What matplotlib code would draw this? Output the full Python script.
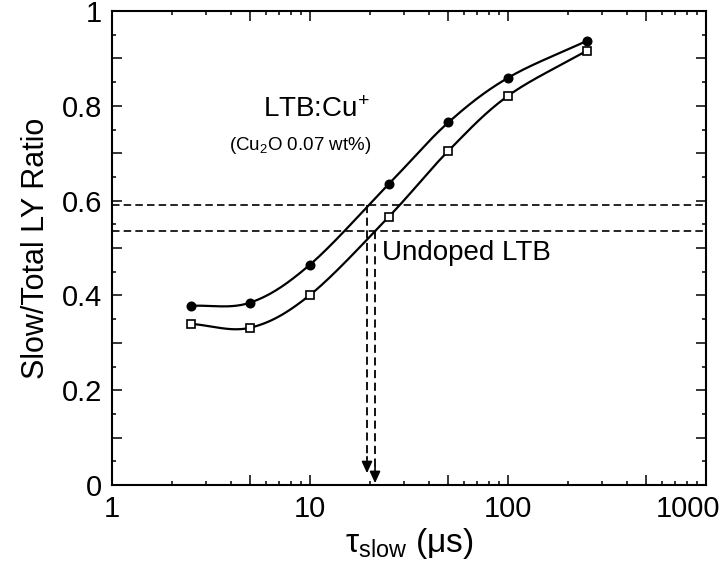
import numpy as np
import matplotlib
matplotlib.use("Agg")
import matplotlib.pyplot as plt
import matplotlib.transforms as mtransforms

plt.rcParams['font.family'] = ['Liberation Sans', 'DejaVu Sans']
plt.rcParams['mathtext.fontset'] = 'custom'
plt.rcParams['mathtext.rm'] = 'Liberation Sans'
plt.rcParams['mathtext.default'] = 'regular'

# data
tau = [2.5, 5, 10, 25, 50, 100, 250]
ratio_cu = [0.378, 0.385, 0.465, 0.635, 0.765, 0.859, 0.937]
ratio_undoped = [0.340, 0.332, 0.401, 0.566, 0.705, 0.821, 0.916]

level_cu = 0.591
level_undoped = 0.536
tau_cu = 19.4
tau_undoped = 21.3

xticks = [1, 5, 10, 50, 100, 500, 1000]
xticklabels = ['1', '', '10', '', '100', '', '1000']
yticks = [0, 0.1, 0.2, 0.3, 0.4, 0.5, 0.6, 0.7, 0.8, 0.9, 1.0]
yticklabels = ['0', '', '0.2', '', '0.4', '', '0.6', '', '0.8', '', '1']


def smooth(xs, ys, n=40):
    # catmull-rom through the points, in log-x space
    lx = np.log10(xs)
    y = np.asarray(ys, float)
    P = np.column_stack([lx, y])
    P = np.vstack([2 * P[0] - P[1], P, 2 * P[-1] - P[-2]])
    out = []
    for i in range(1, len(P) - 2):
        p0, p1, p2, p3 = P[i - 1], P[i], P[i + 1], P[i + 2]
        t = np.linspace(0, 1, n)[:, None]
        seg = 0.5 * ((2 * p1) + (-p0 + p2) * t + (2 * p0 - 5 * p1 + 4 * p2 - p3) * t ** 2
                     + (-p0 + 3 * p1 - 3 * p2 + p3) * t ** 3)
        out.append(seg)
    out = np.vstack(out)
    return 10 ** out[:, 0], out[:, 1]


fig = plt.figure(figsize=(7.25, 5.64), dpi=100)
ax = fig.add_axes([0.1545, 0.14, 0.8193, 0.8405])

for ys, mk, fc in [(ratio_cu, 'o', 'k'), (ratio_undoped, 's', 'white')]:
    sx, sy = smooth(tau, ys)
    ax.plot(sx, sy, color='k', lw=1.6, zorder=2)
    ax.plot(tau, ys, ls='none', marker=mk, ms=5.8 if mk == 's' else 6,
            mfc=fc, mec='k', mew=1.2, zorder=3)

dash = (4.5, 2.5)
ax.axhline(level_cu, color='k', lw=1.2, dashes=dash, zorder=1)
ax.axhline(level_undoped, color='k', lw=1.2, dashes=dash, zorder=1)

for xv, top, tip in [(tau_cu, level_cu, 0.025), (tau_undoped, level_undoped, 0.004)]:
    ax.plot([xv, xv], [top, tip + 0.03], color='k', lw=1.3, dashes=dash, zorder=1)
    ax.annotate('', xy=(xv, tip), xytext=(xv, tip + 0.035),
                arrowprops=dict(arrowstyle='-|>,head_length=0.7,head_width=0.32',
                                color='k', lw=1.2, shrinkA=0, shrinkB=0))

ax.text(5.8, 0.776, 'LTB:Cu$^{+}$', fontsize=20, ha='left', va='baseline')
ax.text(3.9, 0.707, '(Cu$_{2}$O 0.07 wt%)', fontsize=13.5, ha='left', va='baseline')
ax.text(23.1, 0.475, 'Undoped LTB', fontsize=20, ha='left', va='baseline')

ax.set_xscale('log')
ax.set_xlim(1, 1000)
ax.set_ylim(0, 1)
ax.set_xticks(xticks, labels=xticklabels)
minor = [m * 10 ** k for k in range(3) for m in (2, 3, 4, 6, 7, 8, 9)]
ax.set_xticks(minor, minor=True)
ax.set_xticklabels([], minor=True)
ax.set_yticks(yticks, labels=yticklabels)
ax.set_yticks(np.arange(0.05, 1.0, 0.1), minor=True)

ax.tick_params(which='both', direction='in', top=True, right=True, labelsize=21)
ax.tick_params(which='major', length=7.2, width=1.1, pad=7)
ax.tick_params(which='minor', length=3.2, width=1.1)
for s in ax.spines.values():
    s.set_linewidth(1.5)

# last x label sits a bit left in the reference so it stays inside the figure
last = ax.get_xticklabels()[-1]
last.set_transform(last.get_transform()
                   + mtransforms.ScaledTranslation(-0.18, 0, fig.dpi_scale_trans))

ax.set_xlabel('τ$_{slow}$ (μs)', fontsize=24, labelpad=2)
ax.set_ylabel('Slow/Total LY Ratio', fontsize=22, labelpad=8)

fig.savefig('out.png', dpi=100)
